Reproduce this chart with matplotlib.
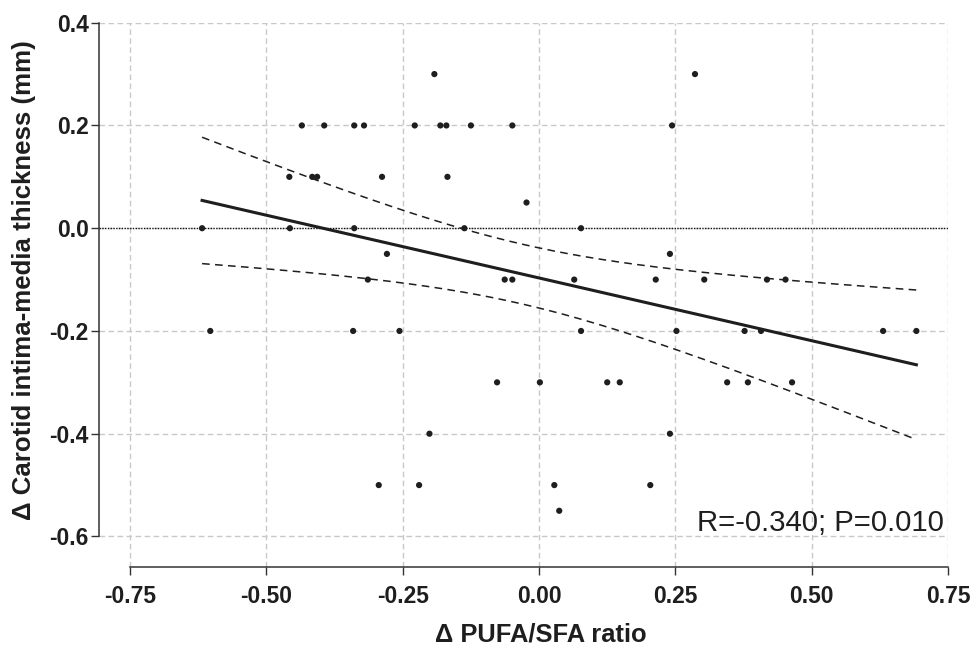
import matplotlib
matplotlib.use('Agg')
import matplotlib.pyplot as plt
import numpy as np

plt.rcParams['font.family'] = ['Liberation Sans', 'DejaVu Sans']

# change in PUFA/SFA ratio vs change in carotid IMT, one entry per subject
pufa_sfa = [-0.192, 0.286,
            -0.435, -0.394, -0.339, -0.321, -0.228, -0.181, -0.170, -0.125, -0.049, 0.244,
            -0.458, -0.416, -0.407, -0.288, -0.168,
            -0.023,
            -0.618, -0.457, -0.339, -0.137, 0.077,
            -0.279, 0.240,
            -0.314, -0.063, -0.049, 0.0645, 0.214, 0.303, 0.418, 0.452,
            -0.603, -0.341, -0.256, 0.077, 0.252, 0.377, 0.407, 0.631, 0.692,
            -0.077, 0.0015, 0.125, 0.148, 0.345, 0.383, 0.464,
            -0.201, 0.240,
            -0.294, -0.220, 0.028, 0.204,
            0.037]
imt = [0.3, 0.3,
       0.2, 0.2, 0.2, 0.2, 0.2, 0.2, 0.2, 0.2, 0.2, 0.2,
       0.1, 0.1, 0.1, 0.1, 0.1,
       0.05,
       0.0, 0.0, 0.0, 0.0, 0.0,
       -0.05, -0.05,
       -0.1, -0.1, -0.1, -0.1, -0.1, -0.1, -0.1, -0.1,
       -0.2, -0.2, -0.2, -0.2, -0.2, -0.2, -0.2, -0.2, -0.2,
       -0.3, -0.3, -0.3, -0.3, -0.3, -0.3, -0.3,
       -0.4, -0.4,
       -0.5, -0.5, -0.5, -0.5,
       -0.55]
x_ticks = [-0.75, -0.50, -0.25, 0.00, 0.25, 0.50, 0.75]
y_ticks = [-0.6, -0.4, -0.2, 0.0, 0.2, 0.4]
stats_text = 'R=-0.340; P=0.010'

x = np.array(pufa_sfa)
y = np.array(imt)

# linear fit with 95% confidence band of the mean
n = len(x)
slope, icpt = np.polyfit(x, y, 1)
resid = y - (icpt + slope * x)
s = np.sqrt(np.sum(resid ** 2) / (n - 2))
t_crit = 2.004  # t(0.975, df=55)
xf = np.linspace(x.min(), x.max(), 200)
yf = icpt + slope * xf
se = s * np.sqrt(1.0 / n + (xf - x.mean()) ** 2 / np.sum((x - x.mean()) ** 2))

fig = plt.figure(figsize=(9.71, 6.47), dpi=100)
ax = fig.add_axes([0.1020, 0.1232, 0.8743, 0.8417])

dark = '#1e1e1e'
ax.grid(True, color='#c8c8c8', linestyle=(0, (4, 2.5)), linewidth=1.0)
ax.set_axisbelow(True)
ax.axhline(0, color='#111111', linestyle=(0, (1, 1)), linewidth=1.0, zorder=1.5)

ax.plot(xf, yf + t_crit * se, color=dark, linestyle=(0, (5, 3.5)), linewidth=1.1, zorder=2)
ax.plot(xf, yf - t_crit * se, color=dark, linestyle=(0, (5, 3.5)), linewidth=1.1, zorder=2)
ax.plot(xf, yf, color=dark, linewidth=2.2, zorder=3)
ax.scatter(x, y, s=20, color=dark, edgecolors='none', zorder=4)

ax.set_xlim(-0.807, 0.75)
ax.set_ylim(-0.66, 0.4)
ax.set_xticks(x_ticks)
ax.set_xticklabels(['%.2f' % v for v in x_ticks])
ax.set_yticks(y_ticks)
ax.set_yticklabels(['%.1f' % v for v in y_ticks])

for side in ['top', 'right']:
    ax.spines[side].set_visible(False)
for side in ['left', 'bottom']:
    ax.spines[side].set_color('#333333')
    ax.spines[side].set_linewidth(1.1)
ax.spines['left'].set_bounds(-0.6, 0.4)
ax.spines['bottom'].set_bounds(-0.75, 0.75)

ax.tick_params(axis='x', length=6, width=1.0, color='#333333', pad=7,
               labelsize=16.5, labelcolor=dark)
ax.tick_params(axis='y', length=6, width=1.0, color='#333333', pad=1.5,
               labelsize=16.5, labelcolor=dark)
for lab in ax.get_xticklabels() + ax.get_yticklabels():
    lab.set_fontweight('bold')

ax.set_xlabel('\u0394 PUFA/SFA ratio', fontsize=18.4, fontweight='bold', color=dark)
ax.set_ylabel('\u0394 Carotid intima-media thickness (mm)', fontsize=18.6,
              fontweight='bold', color=dark)
ax.xaxis.set_label_coords(0.520, -0.123)
ax.xaxis.label.set_verticalalignment('center')
ax.yaxis.set_label_coords(-0.088, 0.528)
ax.yaxis.label.set_verticalalignment('center')

ax.text(0.743, -0.59, stats_text, ha='right', va='baseline', fontsize=21.2,
        color=dark)

plt.savefig('out.png', dpi=100)
